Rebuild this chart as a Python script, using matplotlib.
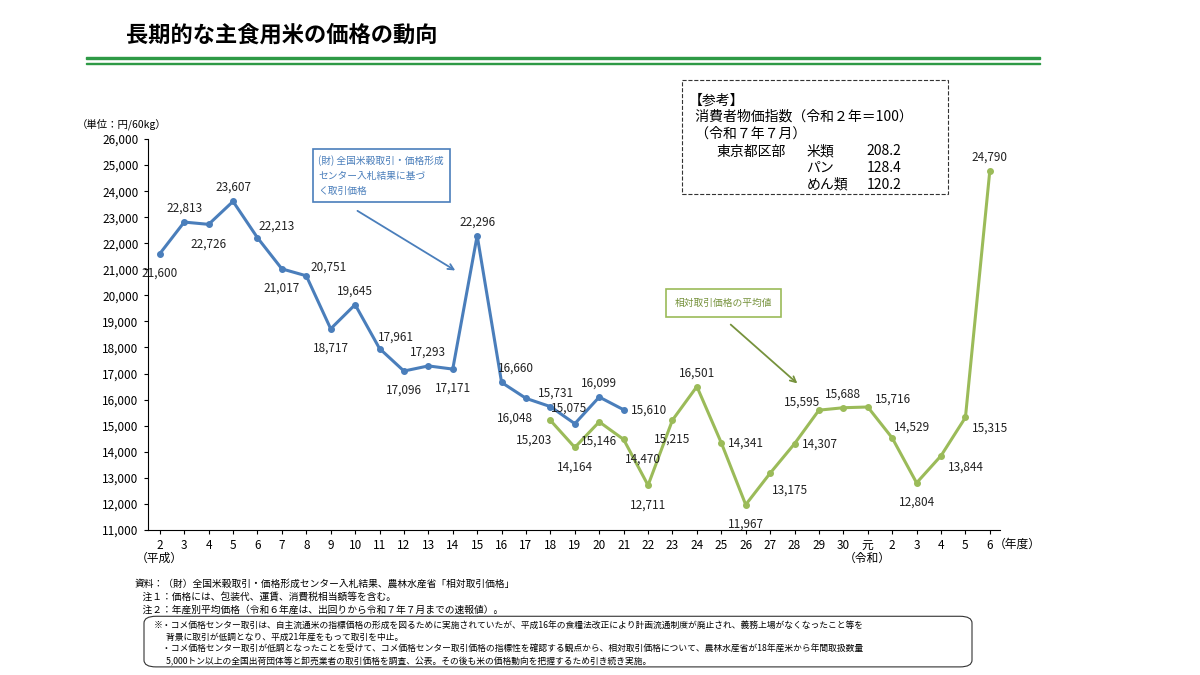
import matplotlib.pyplot as plt
from matplotlib.patches import Rectangle, FancyBboxPatch

plt.rcParams['font.family'] = ['Noto Sans CJK JP', 'DejaVu Sans']


def price_trend(years, blue, green, green_start):

    fig = plt.figure(figsize=(12, 6.75), dpi=100)
    ax1 = fig.add_axes([0.123, 0.215, 0.71, 0.579])
    x = list(range(len(years)))

    ax1.plot(x[:len(blue)], blue, color='#4a7ebb', lw=2.2, marker='o', ms=4)
    gx = x[green_start:green_start + len(green)]
    ax1.plot(gx, green, color='#9bbb59', lw=2.2, marker='o', ms=4)

    # ラベル位置 (dx, dy) 単位: points
    blue_off = [(0, -14), (0, 10), (0, -14), (0, 10), (14, 8), (0, -14), (16, 6),
                (0, -14), (0, 10), (12, 8), (0, -14), (0, 10), (0, -14), (0, 10),
                (10, 10), (-8, -14), (4, 10), (-4, 11), (0, 10), (18, 0)]
    green_off = [(-12, -14), (0, -14), (0, -14), (14, -14), (0, -14), (0, -14),
                 (0, 10), (18, 0), (0, -14), (14, -12), (18, 0), (-12, 6), (0, 10),
                 (18, 6), (14, 8), (0, -14), (18, -8), (18, -8), (0, 10)]
    for xi, v, o in zip(x, blue, blue_off):
        ax1.annotate(f'{v:,}', (xi, v), xytext=o, textcoords='offset points',
                     ha='center', va='center', fontsize=8.5, color='#222')
    for xi, v, o in zip(gx, green, green_off):
        ax1.annotate(f'{v:,}', (xi, v), xytext=o, textcoords='offset points',
                     ha='center', va='center', fontsize=8.5, color='#222')

    ax1.set_ylim(11000, 26000)
    ax1.set_yticks(range(11000, 26001, 1000))
    ax1.set_yticklabels([f'{v:,}' for v in range(11000, 26001, 1000)], fontsize=8.5)
    ax1.set_xlim(-0.5, 34.4)
    ax1.set_xticks(x)
    ax1.set_xticklabels(years, fontsize=8.5)
    ax1.spines['top'].set_visible(False)
    ax1.spines['right'].set_visible(False)
    ax1.tick_params(length=3)
    ax1.text(-0.03, 1.03, '（単位：円/60kg）', transform=ax1.transAxes, fontsize=7.5, ha='center')
    fig.text(0.133, 0.168, '（平成）', fontsize=8.5, ha='center')
    fig.text(0.723, 0.168, '（令和）', fontsize=8.5, ha='center')
    fig.text(0.848, 0.188, '（年度）', fontsize=8.5, ha='center')

    # 注記ボックスと矢印
    ax1.text(6.5, 24600, '(財) 全国米穀取引・価格形成\nセンター入札結果に基づ\nく取引価格',
             fontsize=7, color='#4a7ebb', va='center', linespacing=1.6,
             bbox=dict(boxstyle='square,pad=0.6', fc='white', ec='#4a7ebb', lw=1.2))
    ax1.annotate('', xy=(12.2, 20900), xytext=(8.0, 23300),
                 arrowprops=dict(arrowstyle='->', color='#4a7ebb', lw=1.3))
    ax1.text(21.1, 19700, '相対取引価格の平均値', fontsize=7, color='#76923c', va='center',
             bbox=dict(boxstyle='square,pad=0.9', fc='white', ec='#9bbb59', lw=1.2))
    ax1.annotate('', xy=(26.2, 16550), xytext=(23.3, 18950),
                 arrowprops=dict(arrowstyle='->', color='#76923c', lw=1.3))

    fig.patches.append(Rectangle((0.568, 0.712), 0.222, 0.17, transform=fig.transFigure,
                                 fill=False, ls='--', lw=0.8, ec='#333'))
    fig.text(0.574, 0.862, '【参考】\n  消費者物価指数（令和２年＝100）\n  （令和７年７月）',
             fontsize=10, va='top', linespacing=1.25)
    fig.text(0.597, 0.786, '東京都区部', fontsize=10, va='top')
    fig.text(0.672, 0.786, '米類\nパン\nめん類', fontsize=10, va='top', linespacing=1.25)
    fig.text(0.722, 0.786, '208.2\n128.4\n120.2', fontsize=10, va='top', linespacing=1.25)

    # タイトルと緑線
    fig.text(0.105, 0.948, '長期的な主食用米の価格の動向', fontsize=16, va='center',
             fontweight='bold')
    fig.patches.append(Rectangle((0.072, 0.912), 0.795, 0.004, transform=fig.transFigure,
                                 color='#2e9a46'))
    fig.patches.append(Rectangle((0.072, 0.905), 0.795, 0.002, transform=fig.transFigure,
                                 color='#2e9a46'))

    fig.text(0.112, 0.142, '資料：（財）全国米穀取引・価格形成センター入札結果、農林水産省「相対取引価格」\n'
             '    注１：価格には、包装代、運賃、消費税相当額等を含む。\n'
             '    注２：年産別平均価格（令和６年産は、出回りから令和７年７月までの速報値）。',
             fontsize=7, va='top', linespacing=1.35)
    fig.patches.append(FancyBboxPatch((0.12, 0.012), 0.69, 0.075, transform=fig.transFigure,
                                      boxstyle='round,pad=0,rounding_size=0.01',
                                      fill=False, lw=0.8, ec='#333'))
    fig.text(0.128, 0.08, '※・コメ価格センター取引は、自主流通米の指標価格の形成を図るために実施されていたが、平成16年の食糧法改正により計画流通制度が廃止され、義務上場がなくなったこと等を\n'
             '      背景に取引が低調となり、平成21年産をもって取引を中止。\n'
             '    ・コメ価格センター取引が低調となったことを受けて、コメ価格センター取引価格の指標性を確認する観点から、相対取引価格について、農林水産省が18年産米から年間取扱数量\n'
             '      5,000トン以上の全国出荷団体等と卸売業者の取引価格を調査、公表。その後も米の価格動向を把握するため引き続き実施。',
             fontsize=6.3, va='top', linespacing=1.4)
    return fig


years = [str(y) for y in range(2, 31)] + ['元', '2', '3', '4', '5', '6']
blue = [21600, 22813, 22726, 23607, 22213, 21017, 20751, 18717, 19645, 17961,
        17096, 17293, 17171, 22296, 16660, 16048, 15731, 15075, 16099, 15610]
green = [15203, 14164, 15146, 14470, 12711, 15215, 16501, 14341, 11967, 13175,
         14307, 15595, 15688, 15716, 14529, 12804, 13844, 15315, 24790]

fig = price_trend(years, blue, green, 16)
fig.savefig('out.png')
